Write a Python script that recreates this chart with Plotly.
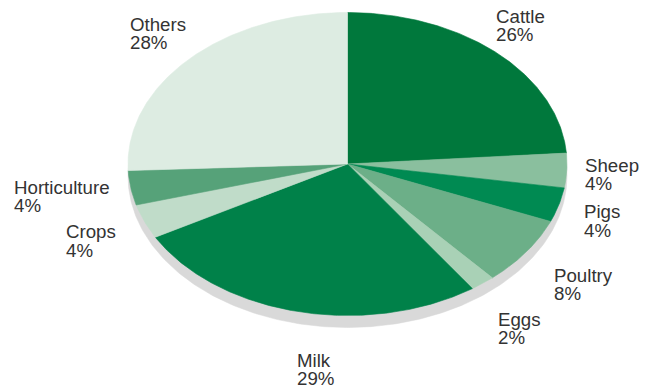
import numpy as np
import plotly.graph_objects as go

# Data (clockwise from 12 o'clock)
categories = ["Cattle", "Sheep", "Pigs", "Poultry", "Eggs", "Milk", "Crops", "Horticulture", "Others"]
values = [26, 4, 4, 8, 2, 29, 4, 4, 28]
colors = ["#00783c", "#8abf9e", "#008a52", "#6caf88", "#a9d1b6",
          "#008149", "#c0dcc9", "#56a279", "#ddece2"]

# label positions (pixels, left edge, first-line centre)
label_pos = {
    "Cattle": (496, 16), "Sheep": (585, 165), "Pigs": (584, 211.5),
    "Poultry": (554, 275), "Eggs": (498, 319), "Milk": (297, 360),
    "Crops": (66, 231.5), "Horticulture": (14, 187), "Others": (130, 24),
}

W, H = 656, 392
OFF = 8  # page body margin
cx, cy, rx, ry = 347.5, 164, 219.5, 151.5
depth = 12

fig = go.Figure()

# shadow / side of the tilted pie
t = np.linspace(0, 2 * np.pi, 400)
fig.add_trace(go.Scatter(x=cx + rx * np.cos(t), y=cy + depth + ry * np.sin(t),
                         fill="toself", fillcolor="#d9d9d9", mode="lines",
                         line=dict(color="#d9d9d9", width=0.5), hoverinfo="skip",
                         showlegend=False))

total = sum(values)
start = 90.0
for name, v, c in zip(categories, values, colors):
    span = 360.0 * v / total
    a = np.radians(np.linspace(start, start - span, max(3, int(span * 2))))
    xs = np.concatenate([[cx], cx + rx * np.cos(a), [cx]])
    ys = np.concatenate([[cy], cy - ry * np.sin(a), [cy]])
    fig.add_trace(go.Scatter(x=xs, y=ys, fill="toself", fillcolor=c, mode="lines",
                             line=dict(color=c, width=0.6), name=name,
                             hovertemplate=f"{name}: {v}%<extra></extra>",
                             showlegend=False))
    start -= span

font = dict(family="Liberation Sans, Arial, sans-serif", size=18.7, color="#333333")
for name, v in zip(categories, values):
    x, y = label_pos[name]
    for i, txt in enumerate([name, f"{v}%"]):
        fig.add_annotation(x=x, y=y + i * 18.8, text=txt, showarrow=False,
                           xanchor="left", yanchor="middle", xref="x", yref="y",
                           font=font, borderpad=0, borderwidth=0)

fig.update_layout(
    width=W, height=H, margin=dict(l=0, r=0, t=0, b=0),
    paper_bgcolor="white", plot_bgcolor="white",
    xaxis=dict(range=[OFF, W + OFF], visible=False, fixedrange=True),
    yaxis=dict(range=[H + OFF, OFF], visible=False, fixedrange=True),
)
fig.write_html("out.html")
